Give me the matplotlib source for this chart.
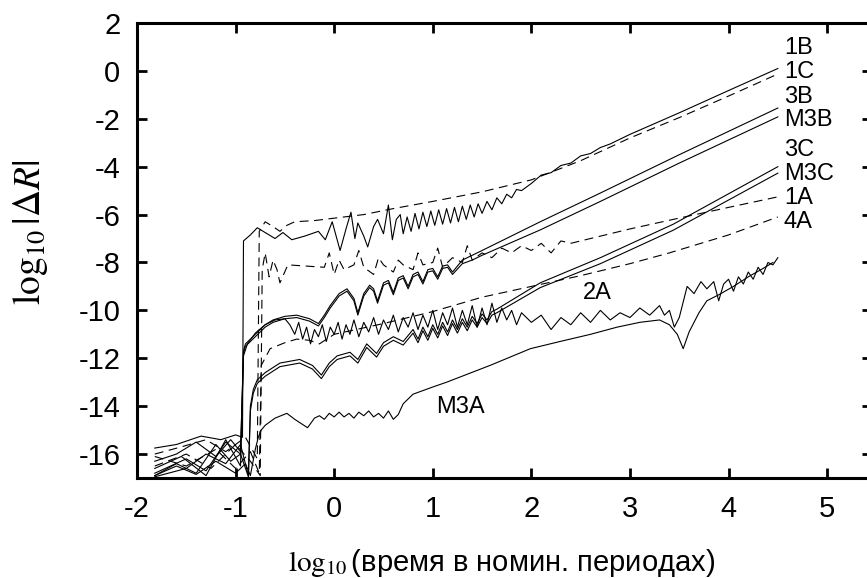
import matplotlib
matplotlib.use("Agg")
import matplotlib.pyplot as plt

plt.rcParams['font.family'] = ['Liberation Sans', 'DejaVu Sans']
plt.rcParams['mathtext.fontset'] = 'stix'
plt.rcParams['axes.unicode_minus'] = False

# Kurven (x = log10 Zeit, y = log10|dR|)
c_1b = [(-1.82, -15.75), (-1.6, -15.6), (-1.35, -15.25), (-1.15, -15.4), (-1.0, -15.2), (-0.93, -15.3),
        (-0.92, -7.1), (-0.85, -6.85), (-0.78, -6.55), (-0.68, -6.8), (-0.6, -7.0), (-0.52, -6.75),
        (-0.43, -7.05), (-0.3, -6.9), (-0.16, -6.7), (-0.09, -7.05), (-0.02, -6.3), (0.06, -7.5),
        (0.12, -6.6), (0.17, -5.9), (0.21, -7.0), (0.24, -6.35), (0.3, -6.9), (0.34, -7.35), (0.4, -6.5),
        (0.44, -6.2), (0.5, -6.8), (0.55, -5.6), (0.59, -7.05), (0.63, -6.2), (0.67, -6.0), (0.7, -6.8),
        (0.74, -6.1), (0.78, -6.7), (0.82, -5.95), (0.86, -6.6), (0.9, -5.9), (0.94, -6.5), (0.98, -5.85),
        (1.02, -6.45), (1.06, -5.8), (1.1, -6.4), (1.14, -5.75), (1.18, -6.35), (1.22, -5.7), (1.26, -6.3),
        (1.3, -5.65), (1.34, -6.2), (1.38, -5.6), (1.42, -6.1), (1.46, -5.55), (1.5, -5.95), (1.55, -5.45),
        (1.6, -5.8), (1.65, -5.3), (1.7, -5.55), (1.75, -5.15), (1.8, -5.3), (1.85, -4.95), (1.9, -5.0),
        (2.0, -4.7), (2.1, -4.35), (2.2, -4.25), (2.3, -3.95), (2.4, -3.85), (2.5, -3.55), (2.6, -3.45),
        (2.7, -3.2), (2.8, -3.05), (3.0, -2.65), (3.5, -1.75), (4.0, -0.82), (4.5, 0.1)]

c_1c = [(-1.82, -16.0), (-1.55, -15.7), (-1.3, -15.4), (-1.1, -15.9), (-0.9, -15.3), (-0.78, -16.2),
        (-0.76, -6.7), (-0.7, -6.3), (-0.62, -6.5), (-0.55, -6.7), (-0.48, -6.45), (-0.4, -6.3),
        (-0.2, -6.25), (0.0, -6.15), (0.3, -6.0), (0.6, -5.75), (1.0, -5.45), (1.5, -5.05), (2.0, -4.55),
        (2.5, -3.75), (3.0, -2.8), (3.5, -1.95), (4.0, -1.05), (4.5, -0.13)]

c_1a = [(-1.82, -16.5), (-1.5, -16.0), (-1.25, -16.6), (-1.0, -15.6), (-0.85, -16.3), (-0.75, -16.9),
        (-0.73, -8.3), (-0.7, -7.6), (-0.66, -8.6), (-0.62, -7.9), (-0.58, -8.3), (-0.55, -8.85),
        (-0.47, -8.1), (-0.1, -8.2), (-0.05, -7.6), (0.0, -8.5), (0.05, -7.9), (0.1, -8.3), (0.2, -8.1),
        (0.25, -7.5), (0.3, -8.2), (0.4, -8.5), (0.45, -7.8), (0.5, -8.1), (0.6, -8.4), (0.65, -7.9),
        (0.7, -8.1), (0.8, -8.3), (0.85, -7.6), (0.9, -8.1), (1.0, -8.0), (1.05, -7.4), (1.1, -8.2),
        (1.2, -7.8), (1.3, -8.0), (1.35, -7.3), (1.4, -7.9), (1.5, -7.6), (1.6, -7.8), (1.7, -7.4),
        (1.8, -7.6), (1.9, -7.3), (2.0, -7.5), (2.1, -7.2), (2.2, -7.6), (2.3, -7.1), (2.4, -7.2),
        (2.6, -7.0), (3.0, -6.6), (3.44, -6.2), (4.0, -5.7), (4.5, -5.26)]

c_3b = [(-1.82, -16.3), (-1.6, -16.0), (-1.4, -15.5), (-1.2, -16.1), (-1.05, -15.4), (-0.95, -15.9),
        (-0.92, -11.7), (-0.9, -11.4), (-0.8, -11.0), (-0.7, -10.6), (-0.62, -10.4), (-0.5, -10.25),
        (-0.38, -10.2), (-0.25, -10.35), (-0.16, -10.55), (-0.1, -10.2), (-0.04, -9.8), (0.05, -9.3),
        (0.13, -9.1), (0.2, -9.5), (0.24, -10.1), (0.3, -9.3), (0.36, -8.95), (0.4, -9.1), (0.44, -9.6),
        (0.5, -8.85), (0.55, -8.75), (0.6, -9.25), (0.65, -8.65), (0.7, -8.55), (0.75, -9.0), (0.8, -8.5),
        (0.85, -8.4), (0.9, -8.8), (0.95, -8.3), (1.0, -8.25), (1.05, -8.6), (1.1, -8.15), (1.15, -8.1),
        (1.2, -8.4), (1.3, -7.9), (1.4, -7.7), (1.5, -7.5), (2.09, -6.3), (2.7, -5.1), (3.5, -3.5),
        (4.5, -1.55)]

c_m3b = [(-1.82, -16.9), (-1.6, -16.4), (-1.4, -16.8), (-1.2, -15.6), (-1.05, -16.3), (-0.95, -16.0),
         (-0.92, -11.8), (-0.9, -11.5), (-0.8, -11.1), (-0.7, -10.7), (-0.62, -10.5), (-0.5, -10.35),
         (-0.38, -10.3), (-0.25, -10.45), (-0.16, -10.65), (-0.1, -10.3), (-0.04, -9.9), (0.05, -9.4),
         (0.13, -9.2), (0.2, -9.6), (0.24, -10.2), (0.3, -9.4), (0.36, -9.05), (0.4, -9.2), (0.44, -9.7),
         (0.5, -8.95), (0.55, -8.85), (0.6, -9.35), (0.65, -8.75), (0.7, -8.65), (0.75, -9.1),
         (0.8, -8.6), (0.85, -8.5), (0.9, -8.9), (0.95, -8.4), (1.0, -8.35), (1.05, -8.7), (1.1, -8.25),
         (1.15, -8.2), (1.2, -8.5), (1.3, -8.05), (1.4, -7.9), (1.5, -7.7), (2.09, -6.64), (2.7, -5.45),
         (3.5, -3.85), (4.5, -1.92)]

c_3c = [(-1.82, -16.8), (-1.5, -16.2), (-1.3, -16.7), (-1.1, -15.5), (-0.95, -16.0), (-0.87, -16.95),
        (-0.85, -14.0), (-0.82, -13.3), (-0.78, -12.9), (-0.7, -12.6), (-0.55, -12.2), (-0.35, -12.05),
        (-0.22, -12.3), (-0.13, -12.7), (-0.05, -12.2), (0.03, -11.9), (0.16, -11.75), (0.24, -12.05),
        (0.33, -11.4), (0.43, -11.8), (0.5, -11.35), (0.6, -11.1), (0.7, -11.3), (0.8, -10.8),
        (0.85, -11.2), (0.9, -10.7), (0.95, -11.1), (1.0, -10.6), (1.05, -11.0), (1.1, -10.5),
        (1.15, -10.9), (1.2, -10.4), (1.25, -10.8), (1.3, -10.35), (1.35, -10.7), (1.4, -10.25),
        (1.45, -10.55), (1.5, -10.15), (1.55, -10.4), (1.6, -10.05), (1.65, -9.95), (2.09, -8.85),
        (2.7, -7.8), (3.44, -6.4), (4.5, -4.0)]

c_m3c = [(-1.82, -16.95), (-1.5, -16.6), (-1.3, -16.0), (-1.1, -16.4), (-0.95, -15.6), (-0.87, -16.9),
         (-0.85, -14.2), (-0.82, -13.45), (-0.78, -13.05), (-0.7, -12.75), (-0.55, -12.35),
         (-0.35, -12.2), (-0.22, -12.45), (-0.13, -12.85), (-0.05, -12.35), (0.03, -12.05),
         (0.16, -11.9), (0.24, -12.2), (0.33, -11.55), (0.43, -11.95), (0.5, -11.5), (0.6, -11.25),
         (0.7, -11.45), (0.8, -10.95), (0.85, -11.35), (0.9, -10.85), (0.95, -11.25), (1.0, -10.75),
         (1.05, -11.15), (1.1, -10.65), (1.15, -11.05), (1.2, -10.55), (1.25, -10.95), (1.3, -10.5),
         (1.35, -10.85), (1.4, -10.4), (1.45, -10.7), (1.5, -10.3), (1.55, -10.55), (1.6, -10.2),
         (1.65, -10.1), (2.09, -9.05), (2.7, -8.05), (3.44, -6.65), (4.5, -4.27)]

c_4a = [(-1.82, -16.1), (-1.5, -16.5), (-1.2, -15.8), (-1.0, -16.6), (-0.85, -15.9), (-0.76, -16.8),
        (-0.74, -12.3), (-0.65, -11.6), (-0.5, -11.35), (-0.38, -11.2), (-0.25, -11.25), (-0.15, -11.4),
        (0.0, -11.0), (0.5, -10.55), (1.0, -10.05), (1.5, -9.45), (2.0, -9.0), (2.5, -8.55),
        (3.0, -8.05), (3.4, -7.6), (4.0, -6.85), (4.5, -6.1)]

c_2a = [(-1.82, -16.6), (-1.55, -16.1), (-1.3, -16.9), (-1.1, -15.4), (-0.95, -16.5), (-0.92, -11.9),
        (-0.88, -11.4), (-0.8, -10.95), (-0.7, -10.6), (-0.6, -10.4), (-0.5, -10.35), (-0.45, -10.6),
        (-0.4, -11.0), (-0.36, -10.5), (-0.32, -11.2), (-0.28, -10.7), (-0.24, -11.4), (-0.2, -10.8),
        (-0.16, -11.1), (-0.12, -10.6), (-0.08, -11.3), (-0.04, -10.7), (0.0, -11.0), (0.04, -10.5),
        (0.08, -11.2), (0.12, -10.6), (0.16, -11.0), (0.2, -10.4), (0.25, -11.1), (0.3, -10.5),
        (0.35, -10.9), (0.4, -10.3), (0.45, -11.0), (0.5, -10.4), (0.55, -10.8), (0.6, -10.2),
        (0.65, -10.9), (0.7, -10.3), (0.75, -10.7), (0.8, -10.1), (0.85, -10.8), (0.9, -10.2),
        (0.95, -10.7), (1.0, -10.0), (1.05, -10.8), (1.1, -10.1), (1.15, -10.6), (1.2, -9.9),
        (1.25, -10.7), (1.3, -10.0), (1.35, -10.6), (1.4, -9.8), (1.45, -10.7), (1.5, -9.9),
        (1.55, -10.6), (1.6, -9.7), (1.65, -10.5), (1.7, -9.9), (1.75, -10.4), (1.8, -10.0),
        (1.85, -10.6), (1.9, -10.1), (2.0, -10.5), (2.1, -10.2), (2.2, -10.8), (2.3, -10.3),
        (2.4, -10.6), (2.5, -10.1), (2.6, -10.5), (2.7, -10.0), (2.8, -10.4), (2.9, -10.1),
        (3.0, -10.3), (3.1, -9.9), (3.2, -10.2), (3.3, -9.8), (3.35, -10.2), (3.4, -10.0),
        (3.45, -10.7), (3.5, -10.3), (3.58, -9.0), (3.65, -9.3), (3.72, -8.8), (3.78, -9.1),
        (3.85, -8.8), (3.9, -9.6), (3.95, -8.9), (4.0, -8.7), (4.05, -9.2), (4.1, -8.6), (4.15, -8.9),
        (4.2, -8.4), (4.25, -8.7), (4.3, -8.2), (4.35, -8.5), (4.4, -8.0), (4.45, -8.1), (4.5, -7.8)]

c_m3a = [(-1.82, -16.9), (-1.6, -16.5), (-1.4, -16.85), (-1.2, -16.3), (-1.0, -16.8), (-0.9, -16.4),
         (-0.85, -16.9), (-0.8, -15.8), (-0.77, -15.3), (-0.74, -15.0), (-0.7, -14.8), (-0.6, -14.5),
         (-0.48, -14.3), (-0.4, -14.55), (-0.27, -14.9), (-0.2, -14.5), (-0.15, -14.4), (-0.1, -14.55),
         (-0.05, -14.3), (0.0, -14.45), (0.05, -14.25), (0.1, -14.45), (0.15, -14.3), (0.2, -14.5),
         (0.25, -14.25), (0.3, -14.4), (0.35, -14.2), (0.4, -14.45), (0.45, -14.3), (0.5, -14.5),
         (0.55, -14.2), (0.6, -14.55), (0.65, -14.35), (0.7, -13.9), (0.8, -13.5), (1.0, -13.2),
         (1.14, -13.0), (1.58, -12.3), (1.99, -11.6), (2.29, -11.3), (2.6, -11.0), (2.87, -10.7),
         (3.1, -10.5), (3.3, -10.4), (3.4, -10.6), (3.48, -11.0), (3.54, -11.6), (3.6, -10.9),
         (3.7, -10.1), (3.78, -9.6), (3.9, -9.35), (4.05, -9.0), (4.2, -8.6), (4.35, -8.25), (4.45, -8.0)]

solid_curves = [c_1b, c_3b, c_m3b, c_3c, c_m3c, c_2a, c_m3a]
dashed_curves = [c_1c, c_1a, c_4a]

# Beschriftungen am rechten Rand
end_labels = ['1B', '1C', '3B', 'M3B', '3C', 'M3C', '1A', '4A']
end_label_y = [0.96, -0.05, -1.1, -2.05, -3.3, -4.3, -5.3, -6.3]

fig = plt.figure(figsize=(8.67, 5.78), dpi=100)
ax = fig.add_axes([137/867, 100/578, 735/867, 455/578])

for c in solid_curves:
    x, y = zip(*c)
    ax.plot(x, y, color='black', lw=0.8)
for c in dashed_curves:
    x, y = zip(*c)
    ax.plot(x, y, color='black', lw=0.8, dashes=(8, 5))

for lab, yy in zip(end_labels, end_label_y):
    ax.text(4.56, yy, lab, fontsize=17, ha='left', va='center')
ax.text(2.67, -9.27, '2A', fontsize=17, ha='center', va='center')
ax.text(1.28, -14.03, 'M3A', fontsize=17, ha='center', va='center')

ax.set_xlim(-2, 5.455)
ax.set_ylim(-17, 2)
ax.set_xticks(range(-2, 6))
ax.set_yticks(range(-16, 3, 2))
ax.tick_params(direction='in', length=7, width=2, labelsize=21, pad=12,
               top=True, right=True)
for s in ax.spines.values():
    s.set_linewidth(2.2)

fig.text(30/867, 1 - 232/578, r'$\log_{10}|\Delta R|$', rotation=90, fontsize=27,
         ha='center', va='center')
fig.text(502/867, 1 - 563/578, r'$\log_{10}$(время в номин. периодах)', fontsize=21,
         ha='center', va='center')

plt.savefig('out.png', dpi=100)
